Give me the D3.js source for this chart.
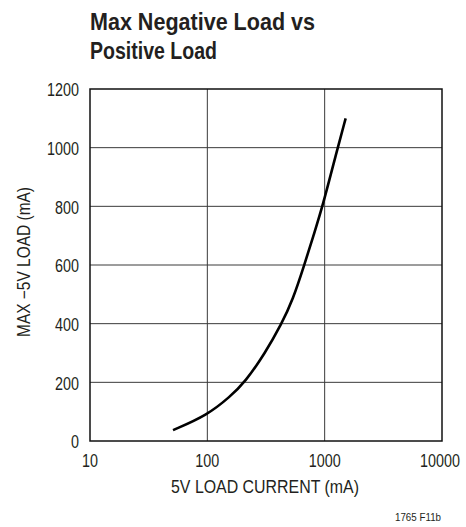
<!DOCTYPE html>
<html>
<head>
<meta charset="utf-8">
<script src="https://d3js.org/d3.v7.min.js"></script>
<style>
  body { margin: 0; background: #fff; }
  text { font-family: "Liberation Sans", Arial, sans-serif; fill: #231f20; }
</style>
</head>
<body>
<div id="chart"></div>
<script>
'use strict';

// curve
const load5v = [51, 100, 156, 209, 310, 430, 535, 671, 802, 961, 1291, 1510];
const maxNegLoad = [37, 88, 151, 200, 299, 400, 481, 600, 700, 800, 1000, 1100];

const xTicks = [10, 100, 1000, 10000];
const yTicks = [0, 200, 400, 600, 800, 1000, 1200];

const titleLines = ['Max Negative Load vs', 'Positive Load'];
const titleWidths = [225, 127];
const xTitle = '5V LOAD CURRENT (mA)';
const yTitle = 'MAX \u22125V LOAD (mA)';
const figId = '1765 F11b';

const W = 466, H = 527;
const margin = {left: 90, top: 89, right: 24, bottom: 86};
const pw = W - margin.left - margin.right;
const ph = H - margin.top - margin.bottom;
const SQUEEZE = 0.82; // fake a condensed face

const svg = d3.select('#chart').append('svg')
    .attr('width', W)
    .attr('height', H);

const x = d3.scaleLog().domain([10, 10000]).range([0, pw]);
const y = d3.scaleLinear().domain([0, 1200]).range([ph, 0]);

// title
titleLines.forEach((t, i) => {
  svg.append('text')
      .attr('x', 90)
      .attr('y', 29.5 + i * 29)
      .attr('textLength', titleWidths[i])
      .attr('lengthAdjust', 'spacingAndGlyphs')
      .style('font-size', '24.5px')
      .style('font-weight', 'bold')
      .text(t);
});

const g = svg.append('g')
    .attr('transform', 'translate(' + margin.left + ',' + margin.top + ')');

// grid
g.selectAll('.vgrid')
    .data(xTicks.slice(1, -1))
  .enter().append('line')
    .attr('class', 'vgrid')
    .attr('x1', d => x(d)).attr('x2', d => x(d))
    .attr('y1', 0).attr('y2', ph)
    .attr('stroke', '#3a3a3a')
    .attr('stroke-width', 1);

g.selectAll('.hgrid')
    .data(yTicks.slice(1, -1))
  .enter().append('line')
    .attr('class', 'hgrid')
    .attr('x1', 0).attr('x2', pw)
    .attr('y1', d => y(d)).attr('y2', d => y(d))
    .attr('stroke', '#3a3a3a')
    .attr('stroke-width', 1);

// frame
g.append('rect')
    .attr('width', pw)
    .attr('height', ph)
    .attr('fill', 'none')
    .attr('stroke', '#111')
    .attr('stroke-width', 1.5);

// tick labels, squeezed with a transform so they look condensed
g.selectAll('.xlab')
    .data(xTicks)
  .enter().append('text')
    .attr('class', 'xlab')
    .attr('transform', d => 'translate(' + (x(d) - (d === 10000 ? 2 : 0)) + ',' + (ph + 26) + ') scale(' + SQUEEZE + ',1)')
    .attr('text-anchor', 'middle')
    .style('font-size', '17.5px')
    .text(d => d);

g.selectAll('.ylab')
    .data(yTicks)
  .enter().append('text')
    .attr('class', 'ylab')
    .attr('transform', d => 'translate(-11,' + y(d) + ') scale(' + SQUEEZE + ',1)')
    .attr('dy', '0.42em')
    .attr('text-anchor', 'end')
    .style('font-size', '17.5px')
    .text(d => d);

// axis titles
svg.append('text')
    .attr('x', 265)
    .attr('y', 493)
    .attr('text-anchor', 'middle')
    .attr('textLength', 188)
    .attr('lengthAdjust', 'spacingAndGlyphs')
    .style('font-size', '17.5px')
    .text(xTitle);

svg.append('text')
    .attr('transform', 'translate(29.5,262) rotate(-90)')
    .attr('text-anchor', 'middle')
    .attr('textLength', 150)
    .attr('lengthAdjust', 'spacingAndGlyphs')
    .style('font-size', '17.5px')
    .text(yTitle);

svg.append('text')
    .attr('x', 441)
    .attr('y', 521)
    .attr('text-anchor', 'end')
    .attr('textLength', 46)
    .attr('lengthAdjust', 'spacingAndGlyphs')
    .style('font-size', '11.5px')
    .text(figId);

// the curve
const line = d3.line()
    .x((d, i) => x(load5v[i]))
    .y(d => y(d))
    .curve(d3.curveBasis);

g.append('path')
    .datum(maxNegLoad)
    .attr('d', line)
    .attr('fill', 'none')
    .attr('stroke', '#000')
    .attr('stroke-width', 2.6);
</script>
</body>
</html>
